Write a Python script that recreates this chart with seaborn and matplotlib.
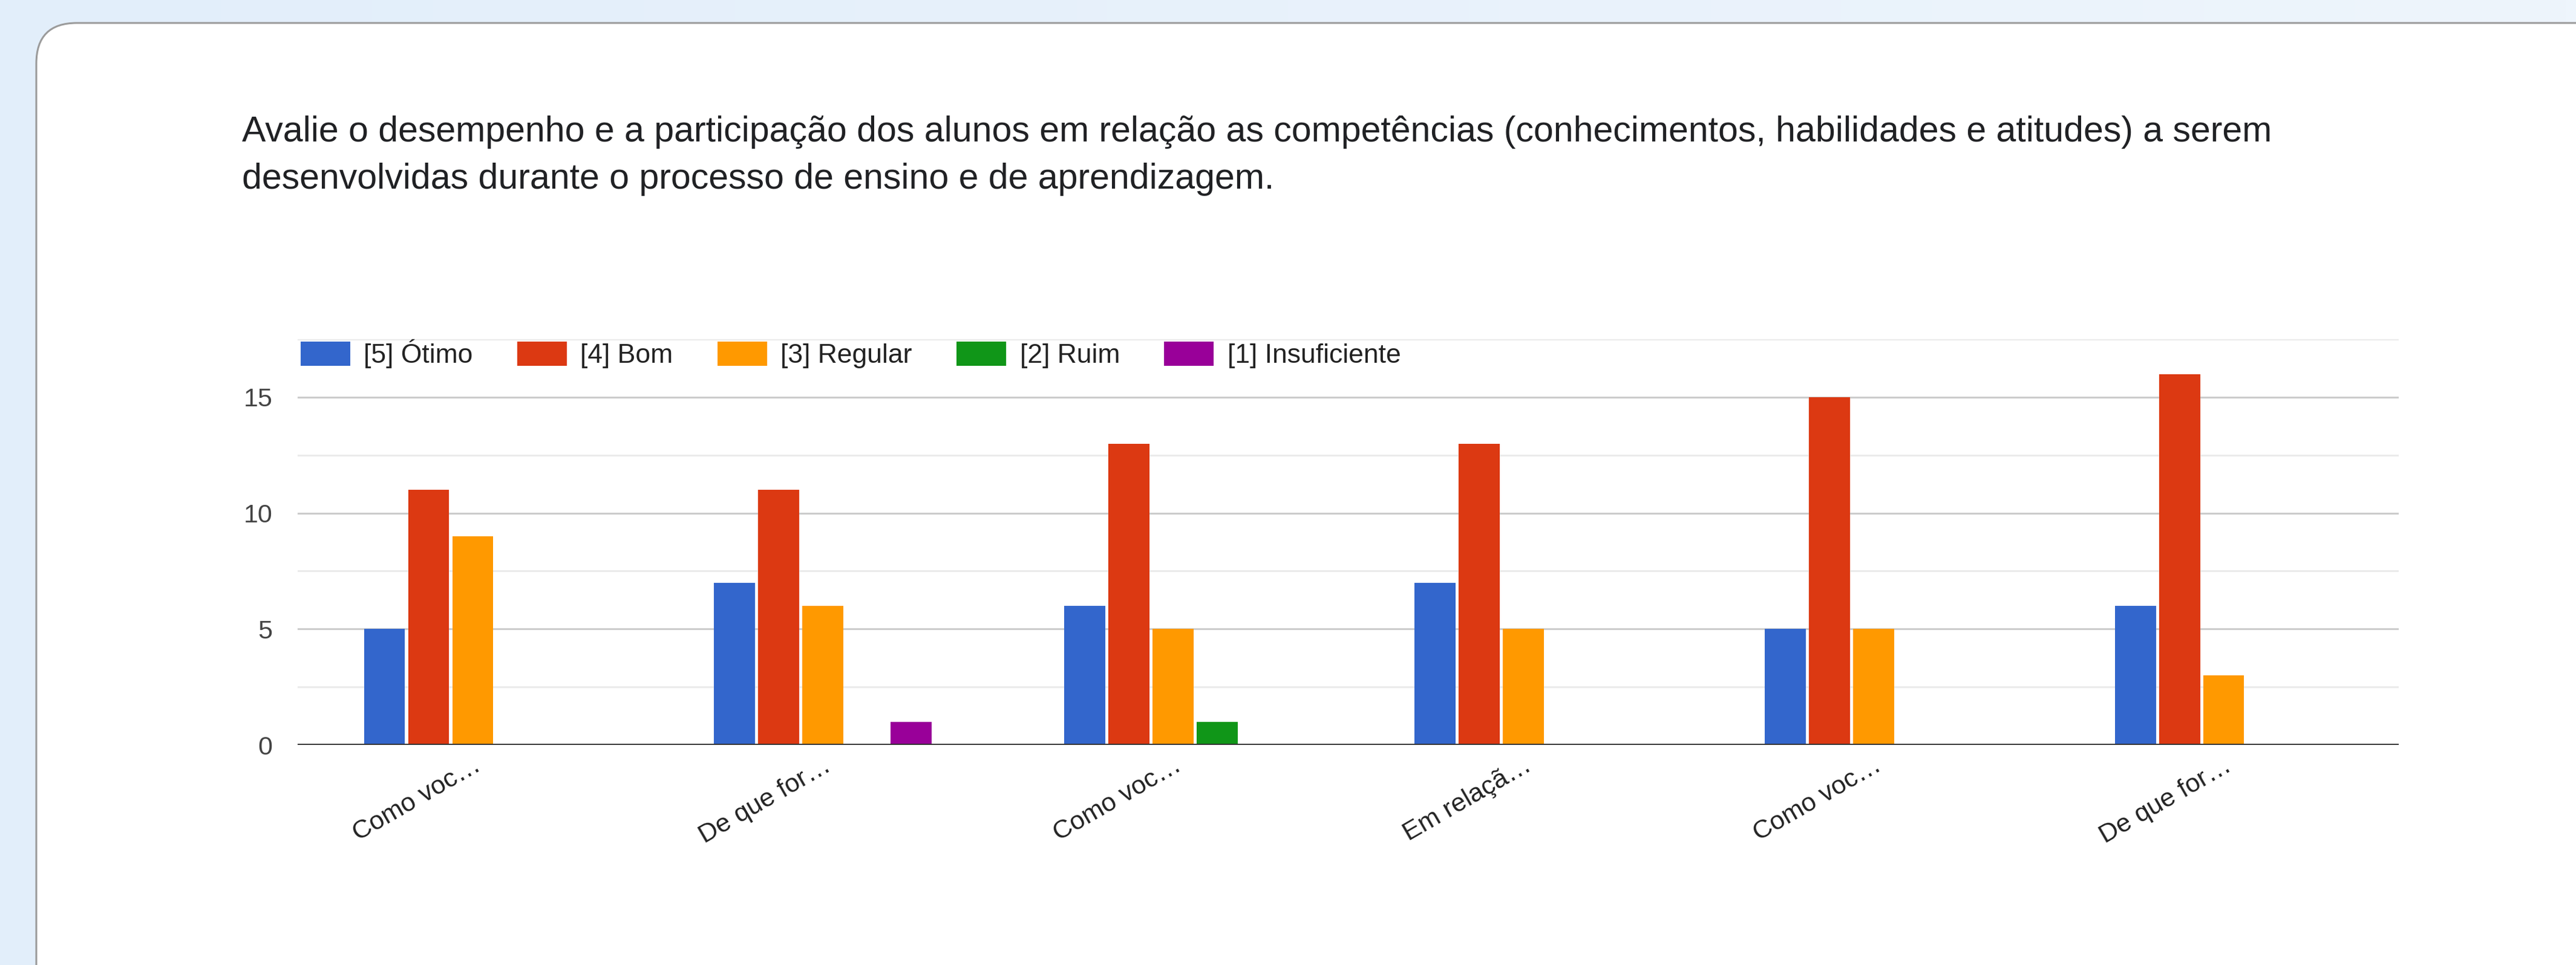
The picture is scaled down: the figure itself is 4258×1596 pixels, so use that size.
import numpy as np
import pandas as pd
import matplotlib.pyplot as plt
import seaborn as sns
from matplotlib.patches import FancyBboxPatch

# Data
questions = ["Q1", "Q2", "Q3", "Q4", "Q5", "Q6"]
tick_labels = ["Como voc…", "De que for…", "Como voc…", "Em relaçã…", "Como voc…", "De que for…"]
ratings = ["[5] Ótimo", "[4] Bom", "[3] Regular", "[2] Ruim", "[1] Insuficiente"]
otimo = [5, 7, 6, 7, 5, 6]
bom = [11, 11, 13, 13, 15, 16]
regular = [9, 6, 5, 5, 5, 3]
ruim = [0, 0, 1, 0, 0, 0]
insuficiente = [0, 1, 0, 0, 0, 0]
colors = ["#3366cc", "#dc3912", "#ff9900", "#109618", "#990099"]

title_lines = [
    "Avalie o desempenho e a participação dos alunos em relação as competências "
    "(conhecimentos, habilidades e atitudes) a serem",
    "desenvolvidas durante o processo de ensino e de aprendizagem.",
]

# Long form table for seaborn
counts = [otimo, bom, regular, ruim, insuficiente]
df = pd.DataFrame({
    "question": questions * len(ratings),
    "rating": np.repeat(ratings, len(questions)),
    "count": np.concatenate(counts),
})

W, H = 4258, 1596
fig = plt.figure(figsize=(W / 100, H / 100), dpi=100)
plt.rcParams["font.family"] = ["Liberation Sans", "DejaVu Sans"]

# light blue page background
bg = fig.add_axes([0, 0, 1, 1], zorder=-10)
grad = np.linspace(0, 1, 256).reshape(1, -1)
cmap = sns.blend_palette(["#e2eefa", "#eef5fc"], as_cmap=True)
bg.imshow(grad, aspect="auto", cmap=cmap, extent=[0, 1, 0, 1])
bg.axis("off")

# white card with rounded corner (runs off right and bottom edges)
card = FancyBboxPatch((0.6, -1.0), 45, 15.58 + 1.0,
                      boxstyle="round,pad=0,rounding_size=0.67",
                      transform=fig.dpi_scale_trans, facecolor="white",
                      edgecolor="#9b9b9b", linewidth=2.2, zorder=-5)
fig.add_artist(card)

# title
t1 = fig.text(400 / W, 1 - 234 / H, title_lines[0], va="baseline", ha="left",
              fontsize=34, color="#202124")
renderer = fig.canvas.get_renderer()
w = t1.get_window_extent(renderer).width
size = 34 * 3350 / w
t1.set_fontsize(size)
fig.text(400 / W, 1 - 312 / H, title_lines[1], va="baseline", ha="left",
         fontsize=size, color="#202124")

# chart
ax = fig.add_axes([492 / W, (H - 1232) / H, (3965 - 492) / W, (1232 - 561) / H])
ax.set_facecolor("none")
sns.barplot(data=df, x="question", y="count", hue="rating", hue_order=ratings,
            order=questions, palette=colors, width=0.63, gap=0.07, saturation=1,
            linewidth=0, errorbar=None, ax=ax)

ax.set_xlim(-0.5, 5.5)
ax.set_ylim(0, 17.5)
ax.set_yticks([0, 5, 10, 15])
ax.set_yticks([2.5, 7.5, 12.5, 17.5], minor=True)
ax.grid(which="major", axis="y", color="#cccccc", linewidth=2.2)
ax.grid(which="minor", axis="y", color="#ebebeb", linewidth=2.2)
ax.grid(which="major", axis="x", visible=False)
ax.set_axisbelow(True)
ax.axhline(0, color="#333333", linewidth=3.5, zorder=3)
for s in ax.spines.values():
    s.set_visible(False)

ax.tick_params(which="both", length=0)
ax.tick_params(axis="y", labelsize=31, labelcolor="#444444", pad=30)
ax.tick_params(axis="x", pad=10)
ax.set_xticks(range(len(questions)))
ax.set_xticklabels(tick_labels, rotation=30, ha="right", rotation_mode="anchor",
                   fontsize=31, color="#222222")
ax.set_xlabel("")
ax.set_ylabel("")

sns.move_legend(ax, loc="center left", bbox_to_anchor=(0.0014, 1 - 24 / 671),
                ncol=5, frameon=False, title=None, fontsize=32,
                handlelength=1.85, handleheight=1.0, handletextpad=0.5,
                columnspacing=1.65, borderpad=0, borderaxespad=0)
for txt in ax.get_legend().get_texts():
    txt.set_color("#222222")

fig.savefig("out.png", dpi=100)
